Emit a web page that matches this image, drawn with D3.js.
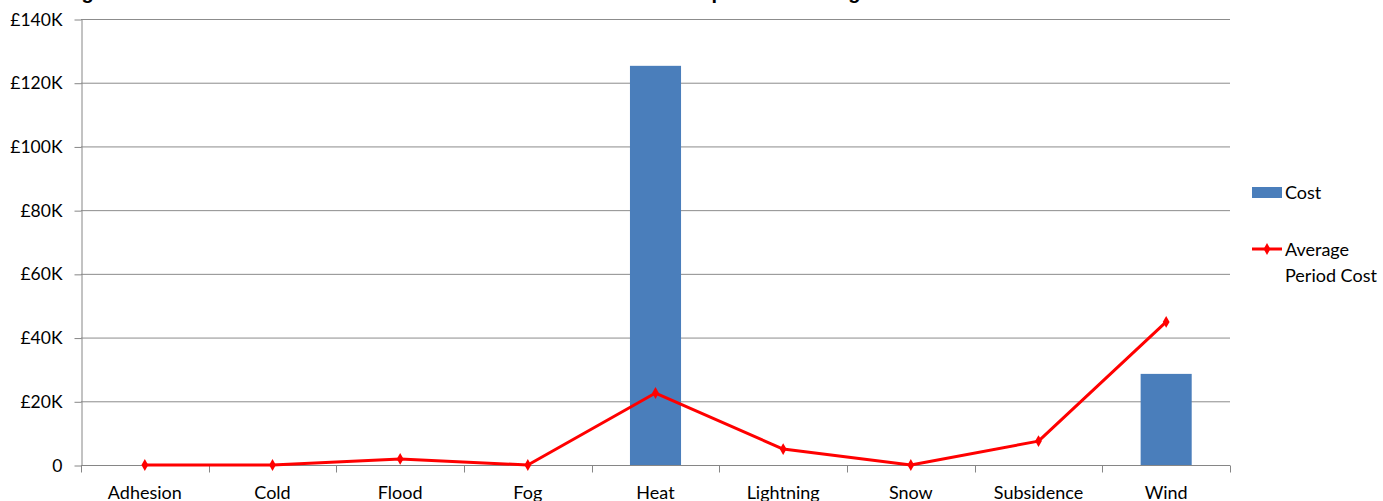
<!DOCTYPE html>
<html>
<head>
<meta charset="utf-8">
<script src="https://cdn.jsdelivr.net/npm/d3@7"></script>
<style>
  body { margin: 0; background: #fff; overflow: hidden; }
  text { font-family: Lato, "Open Sans", sans-serif; fill: #000; }
</style>
</head>
<body>
<div id="container"></div>
<script>
"use strict";

const categories = ["Adhesion", "Cold", "Flood", "Fog", "Heat", "Lightning", "Snow", "Subsidence", "Wind"];
const costValues = [0, 0, 0, 0, 125300, 0, 0, 0, 28600];
const averageValues = [0, 0, 1900, 0, 22600, 5000, 0, 7500, 44900];
const yTicks = [0, 20000, 40000, 60000, 80000, 100000, 120000, 140000];
const seriesNames = ["Cost", "Average Period Cost"];
const titleText = "Damage Costs Attributable to Weather Events in the Current Month compared to average";

const width = 1383;
const height = 501;
const margin = { top: 19, right: 153, bottom: 36, left: 81 };
const fontSize = 18;

const svg = d3.select("#container")
  .append("svg")
  .attr("width", width)
  .attr("height", height);

const x = d3.scaleBand()
  .domain(categories)
  .range([margin.left, width - margin.right]);

const y = d3.scaleLinear()
  .domain([0, 140000])
  .range([height - margin.bottom, margin.top]);

// Title: sits above the picture, only its descenders show (as in the original).
svg.append("text")
  .attr("x", 27)
  .attr("y", -1)
  .style("font-family", "'Liberation Sans', Arial, sans-serif")
  .style("font-weight", "bold")
  .style("font-size", "20px")
  .text(titleText);

// Gridlines.
svg.append("g")
  .selectAll("line")
  .data(yTicks.filter((d) => d !== 0))
  .enter()
  .append("line")
  .attr("x1", margin.left)
  .attr("x2", width - margin.right)
  .attr("y1", (d) => y(d) + 0.5)
  .attr("y2", (d) => y(d) + 0.5)
  .style("stroke", "#8c8c8c")
  .style("stroke-width", 1);

// Draw y-axis.
const yAxis = svg.append("g")
  .attr("transform", `translate(${margin.left + 0.5}, 0.5)`)
  .call(
    d3.axisLeft(y)
      .tickValues(yTicks)
      .tickSize(7)
      .tickSizeOuter(0)
      .tickPadding(12)
      .tickFormat((d) => (d === 0 ? "0" : "£" + d / 1000 + "K"))
  );
yAxis.select(".domain").style("stroke", "#868686");
yAxis.selectAll(".tick line").style("stroke", "#868686");
yAxis.selectAll(".tick text")
  .style("font-family", "Lato, sans-serif")
  .style("font-size", `${fontSize - 0.5}px`)
  .style("fill", "#000");

// Draw x-axis with ticks on category boundaries.
const xAxisG = svg.append("g")
  .attr("transform", `translate(0, ${y(0) + 0.5})`);
xAxisG.append("line")
  .attr("x1", margin.left)
  .attr("x2", width - margin.right)
  .style("stroke", "#868686");
xAxisG.selectAll(".bound")
  .data(categories.concat(["end"]))
  .enter()
  .append("line")
  .attr("class", "bound")
  .attr("x1", (d, i) => Math.round(margin.left + i * x.step()) + 0.5)
  .attr("x2", (d, i) => Math.round(margin.left + i * x.step()) + 0.5)
  .attr("y1", 0)
  .attr("y2", 7)
  .style("stroke", "#868686");
xAxisG.selectAll(".xlabel")
  .data(categories)
  .enter()
  .append("text")
  .attr("class", "xlabel")
  .attr("x", (d) => x(d) + x.bandwidth() / 2)
  .attr("y", 33)
  .attr("text-anchor", "middle")
  .style("font-size", `${fontSize}px`)
  .text((d) => d);

// Draw bars.
const barWidth = x.bandwidth() / 2.5;
svg.append("g")
  .selectAll("rect")
  .data(categories.map((c, i) => ({ key: c, value: costValues[i] })))
  .enter()
  .append("rect")
  .attr("x", (d) => x(d.key) + (x.bandwidth() - barWidth) / 2)
  .attr("y", (d) => y(d.value))
  .attr("width", barWidth)
  .attr("height", (d) => y(0) - y(d.value))
  .style("fill", "#4a7ebb");

// Draw line.
const lineData = categories.map((c, i) => ({ key: c, value: averageValues[i] }));
const line = d3.line()
  .x((d) => x(d.key) + x.bandwidth() / 2)
  .y((d) => y(d.value));
svg.append("path")
  .datum(lineData)
  .attr("d", line)
  .style("fill", "none")
  .style("stroke", "#ff0000")
  .style("stroke-width", 3)
  .style("stroke-linejoin", "round");

const diamond = d3.symbol().type(d3.symbolDiamond).size(40);
svg.append("g")
  .selectAll("path")
  .data(lineData)
  .enter()
  .append("path")
  .attr("d", diamond)
  .attr("transform", (d) => `translate(${x(d.key) + x.bandwidth() / 2}, ${y(d.value)})`)
  .style("fill", "#ff0000");

// Legend.
const legend = svg.append("g");
legend.append("rect")
  .attr("x", 1252)
  .attr("y", 187)
  .attr("width", 30)
  .attr("height", 11)
  .style("fill", "#4a7ebb");
legend.append("text")
  .attr("x", 1285)
  .attr("y", 199)
  .style("font-size", `${fontSize}px`)
  .text(seriesNames[0]);
legend.append("line")
  .attr("x1", 1252)
  .attr("x2", 1282)
  .attr("y1", 249)
  .attr("y2", 249)
  .style("stroke", "#ff0000")
  .style("stroke-width", 3);
legend.append("path")
  .attr("d", diamond)
  .attr("transform", "translate(1267, 249)")
  .style("fill", "#ff0000");
legend.append("text")
  .attr("x", 1285)
  .attr("y", 256)
  .style("font-size", `${fontSize}px`)
  .text("Average");
legend.append("text")
  .attr("x", 1285)
  .attr("y", 282)
  .style("font-size", `${fontSize}px`)
  .text("Period Cost");
</script>
</body>
</html>
